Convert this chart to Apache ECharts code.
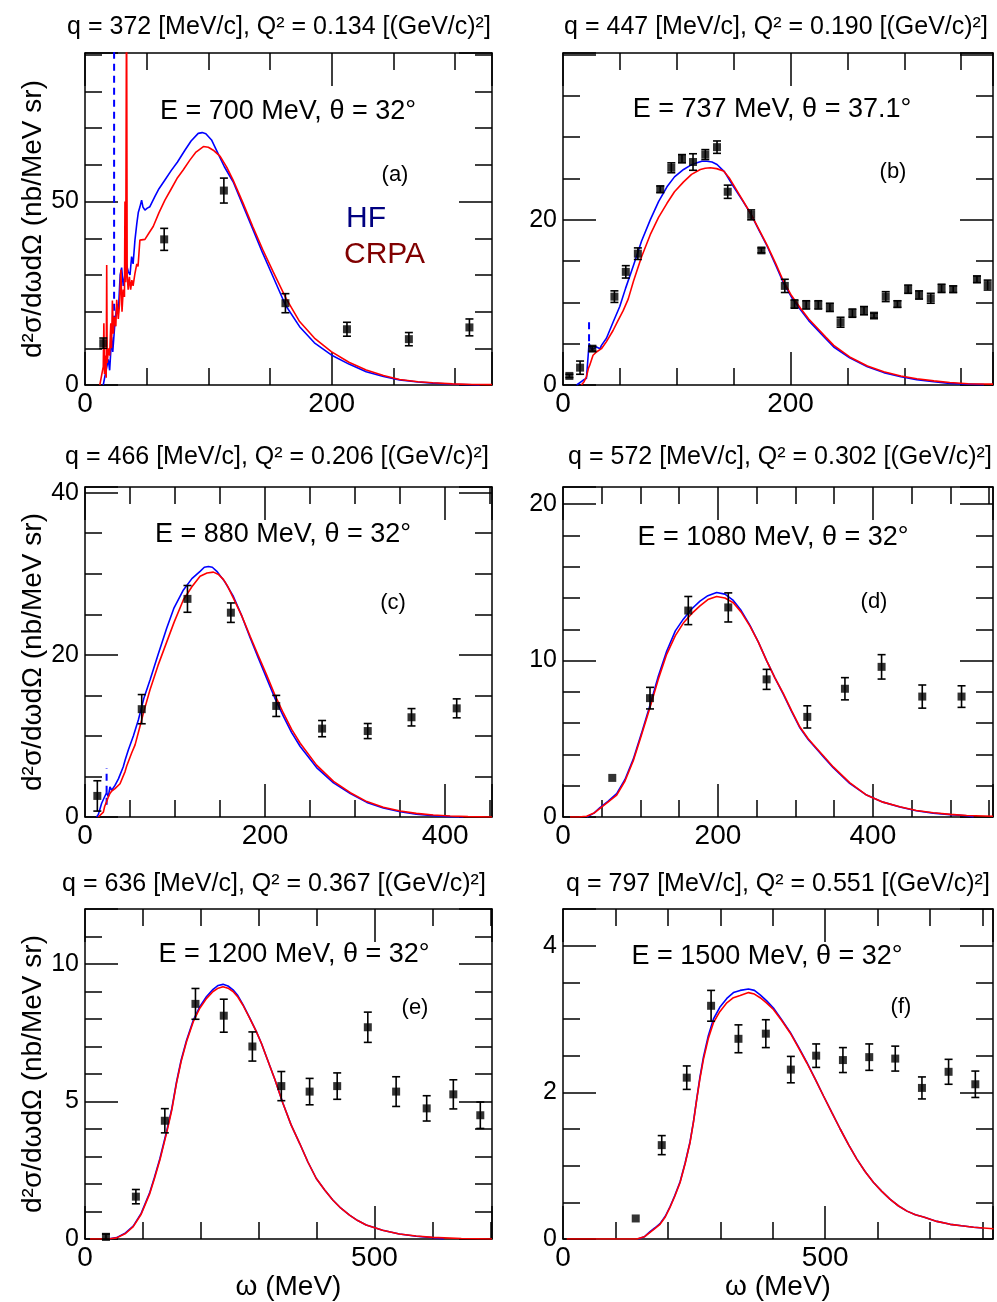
<!DOCTYPE html>
<html><head><meta charset="utf-8">
<script src="https://cdn.jsdelivr.net/npm/echarts@6/dist/echarts.min.js"></script>
<style>html,body{margin:0;padding:0;background:#fff}#c{width:997px;height:1302px}</style>
</head><body><div id="c"></div>
<script>
const FONT = '"Liberation Sans", Arial, Helvetica, sans-serif';

// ---------- titles ----------
const titles = [
  'q = 372 [MeV/c], Q² = 0.134 [(GeV/c)²]',
  'q = 447 [MeV/c], Q² = 0.190 [(GeV/c)²]',
  'q = 466 [MeV/c], Q² = 0.206 [(GeV/c)²]',
  'q = 572 [MeV/c], Q² = 0.302 [(GeV/c)²]',
  'q = 636 [MeV/c], Q² = 0.367 [(GeV/c)²]',
  'q = 797 [MeV/c], Q² = 0.551 [(GeV/c)²]'
];
const kinematics = [
  'E = 700 MeV, θ = 32°',
  'E = 737 MeV, θ = 37.1°',
  'E = 880 MeV, θ = 32°',
  'E = 1080 MeV, θ = 32°',
  'E = 1200 MeV, θ = 32°',
  'E = 1500 MeV, θ = 32°'
];
const tags = ['(a)', '(b)', '(c)', '(d)', '(e)', '(f)'];

// ---------- panel (a) ----------
const hfA = [[14.8,0],[16.5,3],[18.9,7],[20,4],[21.6,13],[22.5,9],[24.5,18],[26,22],[27,19.6],[28.5,30],[29.7,32],[31,27],[32.4,30],[33.5,33],[35,31],[36.5,30],[37.8,35],[39,33],[40.5,39.5],[42,44],[43.2,47],[44.5,48.5],[45.9,50.4],[47,48.5],[48.6,47.7],[50.5,48.2],[52.6,48.6],[56.7,51.4],[60,53.5],[64.8,55.9],[70,58.5],[75,60.8],[81,64],[86,66.5],[91.8,68.6],[95,68.8],[98,68.5],[102.6,66.8],[108,63],[113,59.5],[120.1,55.4],[128,49],[136.3,42.3],[144,36],[152.5,29.5],[162.5,21.8],[174,15.9],[186,11.5],[199.7,8.2],[214,5.7],[228,3.6],[242,2.3],[255,1.4],[270,0.8],[282,0.5],[298,0.2],[314,0.05],[320,0]];
const hfSpikeA = [[23.6,17],[23.6,100]];
const crpaA = [[12,0],[13.5,0],[14.8,5],[15.3,16.8],[15.8,3],[16.5,8],[17.2,2],[17.6,32.7],[18,6],[19,10],[20,8],[20.9,16.8],[21.5,10],[22.2,23],[23,14],[23.8,18.6],[25,16],[25.7,23.2],[27,18],[28,22],[29.1,31.4],[30,20],[31,26],[32,24],[32.4,50],[33,28],[33.7,110],[34.2,30],[35,26],[36,29.5],[37,26],[38,28.6],[39,27],[40.5,30.4],[42,33],[43,32.3],[44.5,39.5],[46,39.5],[48.6,39.7],[52,41.5],[55.3,43.2],[60,47],[64.8,50.4],[70,53.5],[75,56.5],[79.6,58.6],[85,61.3],[90,63.5],[96,65],[100,64.8],[104,64],[109.6,62.3],[115,59.3],[120,55.9],[128,49.7],[136,43.2],[144,37],[152.5,30.9],[163,23.6],[174,17.3],[186,12.8],[199.7,9.1],[214,6.2],[228,4.1],[242,2.6],[255,1.5],[270,0.9],[282,0.6],[298,0.3],[314,0.15],[330,0.1]];
const expA = [[14.8,11.4,1.4],[64.2,39.7,3.0],[112.6,53.0,3.4],[162.5,22.3,2.6],[212.4,15.2,1.9],[262.6,12.5,1.8],[311.7,15.7,2.3]];

// ---------- panel (b) ----------
const hfB = [[12,0],[17.9,0.6],[20.6,0.8],[22.3,3.9],[22.9,5.05],[25,4.3],[27,4.4],[29.4,4.6],[32.6,4.4],[33.8,4.8],[38.2,5.66],[44,7.6],[49.9,9.5],[55,11.7],[62,14.5],[69,17.4],[76.7,20],[84,22.2],[91.4,24],[98,25.2],[106,26.1],[112,26.6],[117.8,26.9],[122,27.1],[126.6,27.1],[131,27.0],[135.4,26.7],[142,25.8],[150,24.0],[157,22.5],[164.8,20.8],[172,18.8],[179.5,16.8],[187,14.5],[194,12.3],[201,10.6],[208.8,9.1],[216,7.8],[223.5,6.7],[231,5.6],[238,4.6],[252,3.3],[267.6,2.2],[282,1.5],[297,1.0],[311,0.65],[326,0.4],[340,0.2],[355.7,0.1],[370,0.05]];
const hfSpikeB = [[22.9,5.3],[22.9,7.9]];
const crpaB = [[16.2,0],[18.5,0.4],[20.6,1],[22.3,2.0],[23.5,2.4],[26.4,3.6],[29.4,4.0],[33.8,4.4],[38.2,5.25],[44,6.6],[48,7.7],[52.9,9.0],[57.3,10.4],[62,12.6],[69,15.5],[76.7,18.2],[84,20.3],[91.4,22.0],[98,23.4],[106,24.6],[113,25.5],[120.7,26.1],[125,26.25],[129.5,26.3],[135,26.2],[141.2,25.9],[146,25.1],[150,24.2],[157,22.6],[164.8,20.8],[172,18.9],[179.5,16.9],[187,14.7],[194,12.5],[201,10.8],[208.8,9.3],[216,8.0],[223.5,6.9],[231,5.8],[238,4.8],[252,3.4],[267.6,2.3],[282,1.6],[297,1.1],[311,0.75],[326,0.5],[340,0.3],[356,0.15],[378,0.1]];
const expB = [[5.6,1.1,0.2],[15,2.1,0.8],[25.8,4.4,0.3],[45.2,10.7,0.7],[55.2,13.7,0.75],[65.8,15.9,0.7],[85.5,23.7,0.4],[95.2,26.3,0.6],[104.6,27.4,0.5],[114.3,27.0,1.0],[125.1,27.9,0.6],[135.4,28.8,0.75],[144.8,23.4,0.8],[165.4,20.6,0.6],[174.4,16.3,0.3],[195,12.0,0.8],[203.5,9.8,0.5],[213.8,9.7,0.5],[224.4,9.7,0.5],[234.6,9.4,0.5],[244,7.6,0.6],[254.4,8.7,0.5],[264.6,9.0,0.5],[273.4,8.4,0.3],[283.7,10.7,0.6],[294,9.8,0.4],[303.4,11.6,0.5],[313,10.9,0.5],[323.3,10.5,0.6],[332.8,11.7,0.5],[343,11.6,0.4],[363.9,12.8,0.4],[373.3,12.1,0.6]];

// ---------- panel (c) ----------
const hfC = [[12.9,0],[14.8,0.3],[18.5,1.7],[20.4,1.5],[21.8,2.5],[24,3.0],[25.9,2.5],[27.7,3.7],[29.7,3.3],[33.3,3.9],[35.2,3.9],[37.1,4.7],[42.5,6.2],[44.5,7.0],[48.2,8.3],[53.7,10.0],[59.3,12],[65.3,14.6],[72.2,16.9],[81.1,20.0],[90.8,23.3],[98.9,25.8],[109.3,28.0],[118.7,29.4],[127.8,30.3],[132.5,30.8],[137.1,30.9],[141.4,30.8],[146.4,30.3],[155.3,29.0],[164.8,27.2],[174.1,24.8],[183.4,22.1],[192.9,19.5],[201.8,17.1],[210.7,14.7],[220.4,12.4],[229.5,10.4],[239,8.7],[257.2,6.1],[276,4.2],[294.7,2.9],[313,1.8],[331.3,1.1],[350.1,0.65],[367.9,0.35],[386.7,0.17],[405.5,0.05],[420.3,0]];
const hfSpikeC = [[24,1.5],[24,6.0]];
const crpaC = [[14.8,0],[16.8,0],[20.4,0.6],[21.8,1.3],[24,1.9],[25.7,2.4],[27.7,2.9],[29.7,3.2],[33.3,3.5],[35.2,3.7],[38.9,4.1],[44.5,5.6],[46.3,6.3],[51.8,7.9],[55.6,8.9],[61.1,11.2],[65.3,13.0],[72.2,15.7],[81.1,18.7],[90.8,21.6],[98.9,24.0],[109.3,26.8],[118.7,28.4],[127.8,29.7],[135.5,30.1],[142.6,30.2],[148.4,29.9],[153.7,29.3],[158.2,28.5],[164.8,27.0],[174.1,24.8],[183.4,22.3],[192.9,19.8],[201.8,17.5],[210.7,15.1],[220.4,12.8],[229.5,10.8],[239,9.1],[257.2,6.4],[276,4.4],[294.7,3.0],[313,1.9],[331.3,1.2],[350.1,0.75],[367.9,0.45],[386.7,0.25],[405.5,0.12],[425.3,0.05],[452,0]];
const expC = [[13.7,2.6,1.87],[63,13.3,1.8],[113.8,26.9,1.65],[162,25.2,1.2],[212.4,13.7,1.3],[263.3,10.9,1.0],[314,10.6,0.93],[362.6,12.3,1.07],[412.8,13.4,1.17]];

// ---------- panel (d) ----------
const hfD = [[30.5,0],[40,0.25],[47.7,0.6],[58,1.0],[69.3,1.5],[80,2.4],[90.7,3.7],[101,5.3],[112.3,7.15],[123,9.0],[133.8,10.6],[145,11.9],[155.3,12.65],[166,13.3],[176.8,13.8],[187,14.15],[198.3,14.35],[209,14.25],[219.8,13.85],[230,13.2],[241.3,12.25],[252,11.2],[262.8,10.0],[273.5,8.9],[284.3,7.85],[295,6.75],[305.8,5.7],[316.5,4.95],[327.3,4.35],[338,3.75],[348.8,3.15],[370,2.15],[391.8,1.4],[413,0.95],[434.8,0.64],[456,0.4],[477.8,0.25],[500,0.15],[521,0.08],[530,0]];
const crpaD = [[9,0],[20,0],[30.5,0.05],[40,0.25],[47.7,0.55],[58,0.95],[69.3,1.4],[80,2.3],[90.7,3.6],[101,5.2],[112.3,7.0],[123,8.8],[133.8,10.4],[145,11.6],[155.3,12.4],[166,13.0],[176.8,13.5],[187,13.9],[198.3,14.1],[209,14.0],[219.8,13.7],[230,13.1],[241.3,12.2],[252,11.2],[262.8,10.0],[273.5,8.9],[284.3,7.9],[295,6.8],[305.8,5.75],[316.5,5.0],[327.3,4.4],[338,3.8],[348.8,3.2],[370,2.2],[391.8,1.4],[413,0.95],[434.8,0.66],[456,0.42],[477.8,0.27],[500,0.17],[521,0.1],[555,0.05]];
const expD = [[63.6,2.5,0],[112.3,7.6,0.69],[161.7,13.2,0.9],[213.3,13.4,0.93],[262.8,8.8,0.64],[315.3,6.4,0.71],[363.9,8.2,0.71],[411.2,9.6,0.78],[463.7,7.7,0.74],[514.4,7.7,0.69]];

// ---------- panel (e) ----------
const hfE = [[40,0],[54.6,0.05],[70,0.22],[83.3,0.47],[97,0.93],[112,1.7],[120,2.25],[129.3,2.92],[140.8,3.9],[150,4.75],[158,5.7],[166,6.5],[175.3,7.22],[187,7.95],[198.3,8.45],[210,8.82],[221.2,9.08],[230,9.22],[238.4,9.26],[247,9.2],[255.7,9.06],[264,8.85],[272.9,8.52],[284,8.06],[296,7.54],[305,7.1],[313.3,6.63],[328,5.8],[342,4.93],[356,4.15],[370.7,3.48],[385,2.8],[399.5,2.2],[414,1.78],[428,1.42],[442,1.12],[456.9,0.87],[471,0.67],[485.7,0.51],[514,0.32],[543,0.18],[572,0.1],[600.5,0.05],[620,0]];
const crpaE = [[8.6,0],[40,0],[54.6,0.04],[70,0.2],[83.3,0.45],[97,0.9],[112,1.66],[120,2.2],[129.3,2.87],[140.8,3.84],[150,4.7],[158,5.66],[166,6.45],[175.3,7.17],[187,7.9],[198.3,8.39],[210,8.75],[221.2,9.0],[230,9.12],[238.4,9.17],[247,9.12],[255.7,9.0],[264,8.8],[272.9,8.5],[284,8.05],[296,7.54],[305,7.1],[313.3,6.63],[328,5.8],[342,4.93],[356,4.15],[370.7,3.48],[385,2.8],[399.5,2.2],[414,1.78],[428,1.42],[442,1.12],[456.9,0.87],[471,0.67],[485.7,0.51],[514,0.32],[543,0.18],[572,0.11],[600.5,0.06],[650,0.02],[703,0]];
const expE = [[36.2,0.08,0.1],[87.9,1.54,0.26],[137.9,4.3,0.44],[190.8,8.55,0.56],[239.7,8.12,0.6],[289.1,7.0,0.53],[339.1,5.56,0.53],[388,5.36,0.48],[435.6,5.56,0.48],[488.5,7.7,0.55],[537.4,5.36,0.54],[590.2,4.75,0.46],[636.2,5.26,0.53],[682.8,4.5,0.48]];

// ---------- panel (f) ----------
const hfF = [[143,0],[155,0.03],[166,0.1],[175,0.15],[185,0.21],[195,0.31],[204,0.44],[213,0.59],[223.3,0.78],[233,1.04],[242.4,1.33],[249,1.61],[255,1.91],[261,2.2],[267.8,2.48],[277,2.77],[286.9,3.0],[299,3.16],[312.4,3.28],[325,3.36],[337.8,3.39],[353.7,3.41],[365,3.39],[376,3.33],[388,3.25],[401.3,3.15],[417,2.99],[433.2,2.82],[449,2.62],[465,2.41],[481,2.18],[496.8,1.95],[513,1.72],[528.6,1.5],[545,1.28],[560.4,1.09],[576,0.92],[592.2,0.77],[608,0.65],[624,0.54],[640,0.45],[656,0.38],[672,0.33],[687.6,0.3],[713,0.24],[738.5,0.2],[760,0.18],[783,0.16],[800,0.15]];
const crpaF = [[7,0],[140.6,0],[155,0.03],[166,0.09],[175,0.14],[185,0.2],[195,0.3],[204,0.43],[213,0.58],[223.3,0.77],[233,1.03],[242.4,1.32],[249,1.6],[255,1.9],[261,2.18],[267.8,2.45],[277,2.73],[286.9,2.95],[299,3.1],[312.4,3.22],[325,3.29],[337.8,3.32],[353.7,3.36],[365,3.34],[376,3.29],[388,3.22],[401.3,3.13],[417,2.98],[433.2,2.81],[449,2.61],[465,2.4],[481,2.18],[496.8,1.95],[513,1.72],[528.6,1.5],[545,1.28],[560.4,1.09],[576,0.92],[592.2,0.77],[608,0.65],[624,0.54],[640,0.45],[656,0.38],[672,0.33],[687.6,0.3],[713,0.24],[738.5,0.2],[760,0.18],[783,0.16],[821,0.14]];
const expF = [[138.7,0.28,0],[188.3,1.28,0.13],[236,2.2,0.16],[282.4,3.18,0.21],[334.6,2.73,0.19],[386.8,2.8,0.19],[434.5,2.31,0.18],[482.8,2.5,0.16],[533.8,2.44,0.17],[584,2.48,0.18],[633.6,2.46,0.17],[684.5,2.06,0.15],[735.3,2.28,0.17],[786.3,2.11,0.18]];

// ---------- axis scales (per panel) ----------
const xMax = [330, 378, 452, 555, 703, 820];
const xStep = [200, 200, 200, 200, 500, 500];
const xMinorSplit = [4, 4, 4, 4, 5, 5];
const yMax = [90.5, 40.2, 40.7, 21.1, 12, 4.5];
const yStep = [50, 20, 20, 10, 5, 2];
const yMinorSplit = [5, 4, 4, 5, 5, 4];
const yHidden = [[], [40], [], [], [], []];

// ---------- layout ----------
const grids = [
  {left: 85, top: 53, width: 407, height: 332},
  {left: 563, top: 53, width: 430, height: 332},
  {left: 85, top: 487, width: 407, height: 330},
  {left: 563, top: 487, width: 430, height: 330},
  {left: 85, top: 909, width: 407, height: 330},
  {left: 563, top: 909, width: 430, height: 330}
];
const titlePos = [[279, 27], [776, 27], [277, 457], [780, 457], [274, 884], [778, 884]];
const kinPos = [[288, 112], [772, 110], [283, 535], [773, 538], [294, 955], [767, 957]];
const tagPos = [[395, 175], [893, 172], [393, 603], [874, 602], [415, 1008], [901, 1007]];

const hfSets = [hfA, hfB, hfC, hfD, hfE, hfF];
const crpaSets = [crpaA, crpaB, crpaC, crpaD, crpaE, crpaF];
const spikeSets = [hfSpikeA, hfSpikeB, hfSpikeC, null, null, null];
const expSets = [expA, expB, expC, expD, expE, expF];

const BLUE = '#0000ff', RED = '#ff0000';
const tickStyle = {color: '#000', width: 1.5};

function labelFmt(i, step) {
  return function (v) {
    const r = v / step;
    if (Math.abs(r - Math.round(r)) > 1e-6) return '';
    const val = Math.round(v * 1000) / 1000;
    if (i >= 0 && yHidden[i].indexOf(val) >= 0) return '';
    return String(val);
  };
}

const xAxes = [], yAxes = [], series = [], graphics = [];
for (let i = 0; i < 6; i++) {
  ['bottom', 'top'].forEach(function (pos) {
    const main = pos === 'bottom';
    xAxes.push({
      type: 'value', gridIndex: i, position: pos, min: 0, max: xMax[i], interval: xStep[i],
      axisLine: {show: true, onZero: false, lineStyle: tickStyle},
      axisTick: {show: true, inside: true, length: 33, lineStyle: tickStyle},
      minorTick: {show: true, splitNumber: xMinorSplit[i], length: 17, lineStyle: tickStyle},
      splitLine: {show: false},
      axisLabel: {show: main, margin: 5, fontSize: 28, color: '#000', fontFamily: FONT, formatter: labelFmt(-1, xStep[i])},
      name: (main && i >= 4) ? 'ω (MeV)' : '',
      nameLocation: 'middle', nameGap: 34,
      nameTextStyle: {fontSize: 28, color: '#000', fontFamily: FONT}
    });
  });
  ['left', 'right'].forEach(function (pos) {
    const main = pos === 'left';
    yAxes.push({
      type: 'value', gridIndex: i, position: pos, min: 0, max: yMax[i], interval: yStep[i],
      axisLine: {show: true, onZero: false, lineStyle: tickStyle},
      axisTick: {show: true, inside: true, length: 33, lineStyle: tickStyle},
      minorTick: {show: true, splitNumber: yMinorSplit[i], length: 17, lineStyle: tickStyle},
      splitLine: {show: false},
      axisLabel: {show: main, margin: 6, fontSize: 25, color: '#000', fontFamily: FONT, formatter: labelFmt(i, yStep[i])},
      name: (main && i % 2 === 0) ? 'd²σ/dωdΩ (nb/MeV sr)' : '',
      nameLocation: 'middle', nameGap: 37, nameRotate: 90,
      nameTextStyle: {fontSize: 28, color: '#000', fontFamily: FONT}
    });
  });
  const xi = 2 * i, yi = 2 * i;
  series.push({
    type: 'line', name: 'HF', xAxisIndex: xi, yAxisIndex: yi, data: hfSets[i],
    showSymbol: false, symbol: 'none', lineStyle: {color: BLUE, width: 1.6}, clip: true, z: 2
  });
  if (spikeSets[i]) {
    series.push({
      type: 'line', name: 'HF', xAxisIndex: xi, yAxisIndex: yi, data: spikeSets[i],
      showSymbol: false, symbol: 'none', lineStyle: {color: BLUE, width: 2, type: [7, 5]}, clip: true, z: 2
    });
  }
  series.push({
    type: 'line', name: 'CRPA', xAxisIndex: xi, yAxisIndex: yi, data: crpaSets[i],
    showSymbol: false, symbol: 'none', lineStyle: {color: RED, width: 1.6}, clip: true, z: 3
  });
  series.push({
    type: 'custom', name: 'err', xAxisIndex: xi, yAxisIndex: yi, data: expSets[i], z: 4,
    renderItem: function (params, api) {
      const x = api.value(0), y = api.value(1), e = api.value(2);
      if (!e) return null;
      const t = api.coord([x, y + e]), b = api.coord([x, y - e]);
      const c = 4, st = {stroke: '#000', lineWidth: 1.6};
      return {type: 'group', children: [
        {type: 'line', shape: {x1: t[0], y1: t[1], x2: b[0], y2: b[1]}, style: st},
        {type: 'line', shape: {x1: t[0] - c, y1: t[1], x2: t[0] + c, y2: t[1]}, style: st},
        {type: 'line', shape: {x1: b[0] - c, y1: b[1], x2: b[0] + c, y2: b[1]}, style: st}
      ]};
    }
  });
  series.push({
    type: 'scatter', name: 'data', xAxisIndex: xi, yAxisIndex: yi,
    data: expSets[i].map(function (d) { return [d[0], d[1]]; }),
    symbol: 'rect', symbolSize: 8, itemStyle: {color: '#000'}, z: 5
  });

  graphics.push({type: 'text', x: titlePos[i][0], y: titlePos[i][1], z: 10,
    style: {text: titles[i], fontSize: 25, fontFamily: FONT, fill: '#000', textAlign: 'center', textVerticalAlign: 'middle', align: 'center', verticalAlign: 'middle'}});
  graphics.push({type: 'text', x: kinPos[i][0], y: kinPos[i][1], z: 10,
    style: {text: kinematics[i], fontSize: 27, fontFamily: FONT, fill: '#000', textAlign: 'center', textVerticalAlign: 'middle', align: 'center', verticalAlign: 'middle'}});
  graphics.push({type: 'text', x: tagPos[i][0], y: tagPos[i][1], z: 10,
    style: {text: tags[i], fontSize: 22, fontFamily: FONT, fill: '#000', textAlign: 'center', textVerticalAlign: 'middle', align: 'center', verticalAlign: 'middle'}});
}
graphics.push({type: 'text', x: 346, y: 219, z: 10,
  style: {text: 'HF', fontSize: 30, fontFamily: FONT, fill: '#000080', textAlign: 'left', textVerticalAlign: 'middle', align: 'left', verticalAlign: 'middle'}});
graphics.push({type: 'text', x: 344, y: 255, z: 10,
  style: {text: 'CRPA', fontSize: 30, fontFamily: FONT, fill: '#800000', textAlign: 'left', textVerticalAlign: 'middle', align: 'left', verticalAlign: 'middle'}});

const chart = echarts.init(document.getElementById('c'), null, {renderer: 'canvas'});
chart.setOption({
  animation: false,
  backgroundColor: '#fff',
  grid: grids.map(function (g) { return Object.assign({containLabel: false, show: false}, g); }),
  xAxis: xAxes,
  yAxis: yAxes,
  series: series,
  graphic: graphics
});
</script>
</body></html>
